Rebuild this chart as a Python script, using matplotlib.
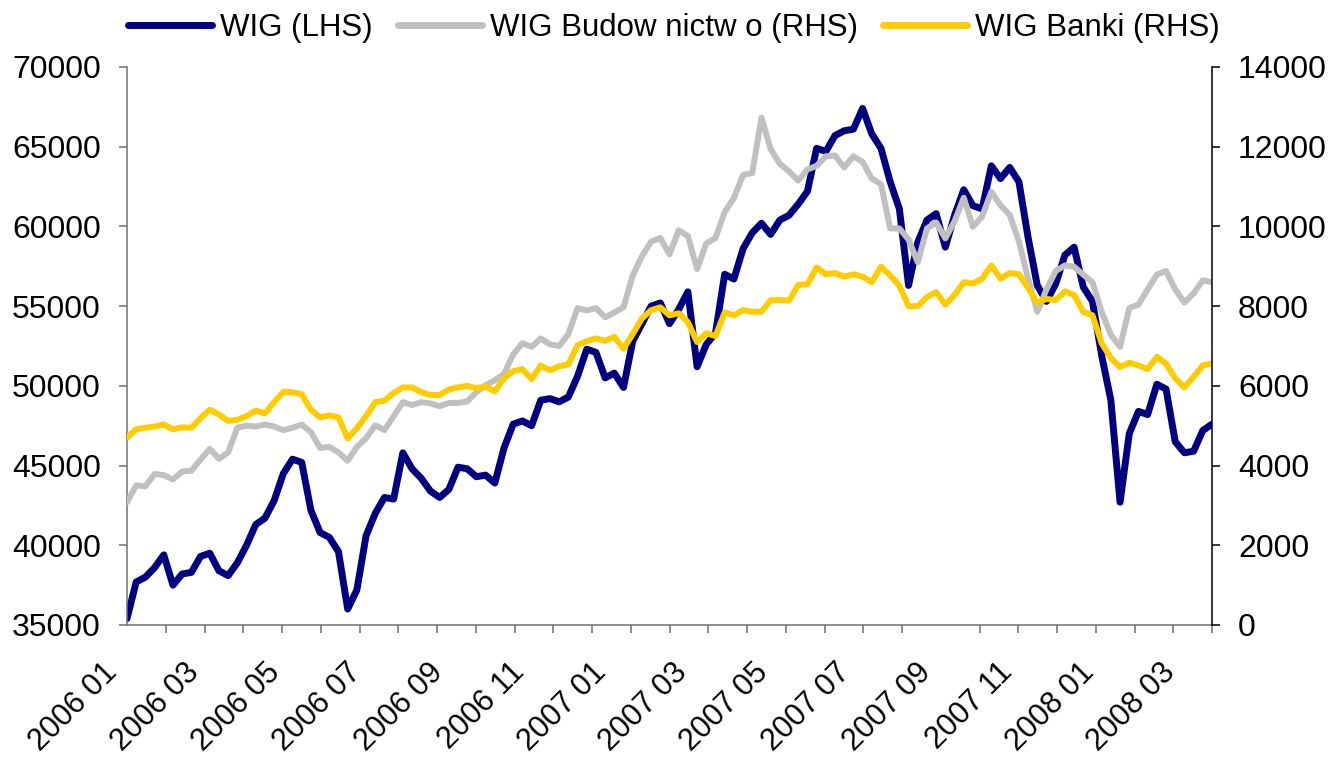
import numpy as np
import matplotlib
matplotlib.use("Agg")
import matplotlib.pyplot as plt
import matplotlib.transforms as mtransforms

plt.rcParams['font.family'] = ['Liberation Sans', 'DejaVu Sans']

# weekly readings, Jan 2006 - Apr 2008
wig = [35400, 37700, 38000, 38600, 39400, 37500, 38200, 38300, 39300, 39500,
       38400, 38100, 38900, 40000, 41300, 41700, 42800, 44500, 45400, 45200,
       42200, 40800, 40500, 39600, 36000, 37200, 40600, 42000, 43000, 42900,
       45800, 44800, 44200, 43400, 43000, 43500, 44900, 44800, 44300, 44400,
       43900, 46100, 47600, 47800, 47500, 49100, 49200, 49000, 49300, 50600,
       52300, 52100, 50500, 50800, 49900, 52800, 53900, 55000, 55200, 53900,
       54800, 55900, 51200, 52600, 53300, 57000, 56700, 58600, 59600, 60200,
       59500, 60400, 60700, 61400, 62200, 64900, 64700, 65700, 66000, 66100,
       67400, 65800, 64900, 62800, 61100, 56300, 59000, 60400, 60800, 58700,
       60700, 62300, 61300, 61100, 63800, 63000, 63700, 62800, 59300, 56300,
       55300, 56400, 58200, 58700, 56200, 55300, 51900, 49100, 42700, 47000,
       48400, 48200, 50100, 49800, 46500, 45800, 45900, 47200, 47600]

budownictwo = [3080, 3500, 3480, 3790, 3760, 3650, 3850, 3870, 4150, 4420,
               4170, 4330, 4950, 5000, 4980, 5030, 4980, 4890, 4950, 5030,
               4840, 4440, 4470, 4330, 4120, 4470, 4690, 5010, 4890, 5240,
               5590, 5520, 5590, 5560, 5490, 5570, 5570, 5610, 5840, 6020,
               6140, 6300, 6790, 7070, 6980, 7190, 7040, 7000, 7300, 7950,
               7890, 7950, 7720, 7840, 7970, 8770, 9250, 9620, 9710, 9300,
               9900, 9760, 8930, 9570, 9710, 10360, 10710, 11290, 11340, 12730,
               11940, 11570, 11380, 11150, 11430, 11520, 11760, 11780, 11480, 11760,
               11620, 11200, 11060, 9950, 9950, 9670, 9100, 9950, 10100, 9700,
               10130, 10720, 9990, 10250, 10870, 10530, 10290, 9620, 8690, 7860,
               8420, 8880, 9020, 8990, 8790, 8600, 7860, 7280, 6980, 7950,
               8040, 8420, 8790, 8880, 8420, 8090, 8320, 8650, 8600]

banki = [4700, 4910, 4950, 4980, 5030, 4910, 4960, 4950, 5190, 5400,
         5280, 5120, 5150, 5240, 5380, 5310, 5590, 5850, 5840, 5790,
         5400, 5210, 5260, 5210, 4680, 4940, 5240, 5590, 5630, 5820,
         5960, 5960, 5840, 5770, 5770, 5910, 5960, 6000, 5940, 5980,
         5860, 6190, 6370, 6420, 6170, 6510, 6390, 6490, 6540, 7020,
         7120, 7190, 7130, 7230, 6930, 7300, 7690, 7900, 7970, 7770,
         7820, 7600, 7100, 7320, 7250, 7840, 7770, 7900, 7860, 7860,
         8150, 8150, 8140, 8530, 8550, 8970, 8800, 8830, 8740, 8800,
         8740, 8600, 8990, 8770, 8510, 8000, 8000, 8230, 8350, 8040,
         8280, 8600, 8570, 8690, 9020, 8690, 8830, 8800, 8460, 8090,
         8180, 8150, 8370, 8280, 7860, 7770, 7070, 6700, 6470, 6580,
         6510, 6420, 6730, 6560, 6190, 5960, 6230, 6510, 6560]

month_labels = ["2006 01", "2006 03", "2006 05", "2006 07", "2006 09", "2006 11",
                "2007 01", "2007 03", "2007 05", "2007 07", "2007 09", "2007 11",
                "2008 01", "2008 03"]

n_days = 560          # trading sessions covered by the axis
label_every = 42      # sessions between date labels
tick_every = 20       # sessions between tick marks
x = np.linspace(0, n_days, len(wig))

fs = 23
axis_grey = '#707070'

fig = plt.figure(figsize=(13.3, 7.58), dpi=100)
ax = fig.add_axes([127 / 1330, 1 - 625 / 758, (1212 - 127) / 1330, (625 - 67) / 758])
ax2 = ax.twinx()

l1, = ax.plot(x, wig, color='#000080', lw=5.0, solid_joinstyle='round',
              solid_capstyle='round', label='WIG (LHS)')
l2, = ax2.plot(x, budownictwo, color='#C0C0C0', lw=4.3, solid_joinstyle='round',
               solid_capstyle='round', label='WIG Budow nictw o (RHS)')
l3, = ax2.plot(x, banki, color='#FFCC00', lw=4.3, solid_joinstyle='round',
               solid_capstyle='round', label='WIG Banki (RHS)')

ax.set_xlim(0, n_days)
ax.set_ylim(35000, 70000)
ax2.set_ylim(0, 14000)
ax.set_yticks(np.arange(35000, 70001, 5000))
ax2.set_yticks(np.arange(0, 14001, 2000))

ax.set_xticks(np.arange(len(month_labels)) * label_every)
ax.set_xticklabels(month_labels)
ax.set_xticks(np.arange(0, n_days + 1, tick_every), minor=True)

for a in (ax, ax2):
    a.spines['top'].set_visible(False)
    a.patch.set_visible(False)
ax.spines['left'].set_color(axis_grey)
ax.spines['bottom'].set_color(axis_grey)
ax.spines['right'].set_visible(False)
ax2.spines['left'].set_visible(False)
ax2.spines['bottom'].set_visible(False)
ax2.spines['right'].set_color('black')
for s in ('left', 'bottom'):
    ax.spines[s].set_linewidth(1.1)
ax2.spines['right'].set_linewidth(1.1)

ax.tick_params(axis='y', labelsize=fs, length=5.8, width=1.1, color=axis_grey, pad=13)
ax2.tick_params(axis='y', labelsize=fs, length=5.8, width=1.1, color='black', pad=13)
ax.tick_params(axis='x', which='major', length=0, labelsize=22, pad=31)
ax.tick_params(axis='x', which='minor', length=5.8, width=1.1, color=axis_grey)

shift = mtransforms.ScaledTranslation(-14 / 100, 0, fig.dpi_scale_trans)
for lab in ax.get_xticklabels():
    lab.set_rotation(45)
    lab.set_ha('right')
    lab.set_va('center')
    lab.set_rotation_mode('anchor')
    lab.set_transform(lab.get_transform() + shift)

leg = fig.legend(handles=[l1, l2, l3], loc='center', bbox_to_anchor=(674 / 1330, 1 - 28 / 758),
                 ncol=3, frameon=False, fontsize=22.5, handlelength=2.7, handletextpad=0.25,
                 columnspacing=0.8, borderaxespad=0, borderpad=0)
for h in leg.get_lines():
    h.set_linewidth(5.0)

fig.savefig('out.png', dpi=100)
